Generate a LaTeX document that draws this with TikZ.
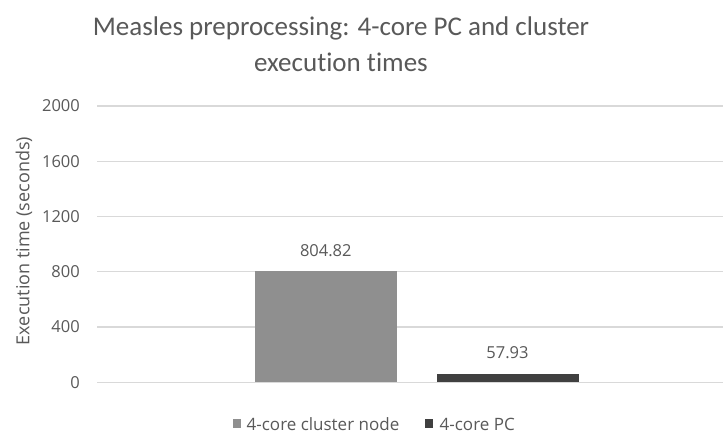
\documentclass[tikz,border=0pt]{standalone}
\usepackage{fontspec}
\setmainfont{Open Sans}
\newfontfamily\titlefont[Ligatures=NoCommon]{Carlito}
\definecolor{txt}{HTML}{595959}
\definecolor{grid}{HTML}{D9D9D9}
\definecolor{barA}{HTML}{8F8F8F}
\definecolor{barB}{HTML}{404040}
\begin{document}
\begin{tikzpicture}[x=1pt,y=-1pt,
  tick/.style={anchor=east,text=txt,font=\fontsize{16.5}{20}\selectfont,inner sep=0pt},
  val/.style={text=txt,font=\fontsize{16.5}{20}\selectfont,inner sep=0pt},
  leg/.style={anchor=west,text=txt,font=\fontsize{17}{20}\selectfont,inner sep=0pt},
  gridline/.style={draw=grid,line width=1.5pt},
  ]
\useasboundingbox[fill=white] (0,0) rectangle (723,435);
% title
\node[text=txt,font=\titlefont\fontsize{27}{36}\selectfont,align=center,anchor=base] (title) at (341,72) {Measles preprocessing: 4-core PC and cluster\\execution times};
% gridlines and ticks
\foreach \v/\y in {0/382.3,400/327,800/271.7,1200/216.6,1600/161.3,2000/106} {
  \coordinate (gl\v) at (97,\y);
  \coordinate (gr\v) at (723,\y);
  \draw[gridline] (gl\v) -- (gr\v);
  \node[tick] (t\v) at (80,\y) {\v};
}
% bars
\fill[barA] (255,382.3) rectangle (397.3,271.0);
\fill[barB] (436.7,382.3) rectangle (579,374.3);
\node[val] (l1) at (325.8,250.7) {804.82};
\node[val] (l2) at (507.5,352.7) {57.93};
% axis title
\node[rotate=90,text=txt,font=\fontsize{18}{20}\selectfont,inner sep=0pt] (ytitle) at (24,241) {Execution time (seconds)};
% legend
\fill[barA] (233,419.5) rectangle (241,428.5);
\node[leg] (lg1) at (246.5,424) {4-core cluster node};
\fill[barB] (425,419.5) rectangle (433,428.5);
\node[leg] (lg2) at (439.5,424) {4-core PC};
\end{tikzpicture}
\end{document}
